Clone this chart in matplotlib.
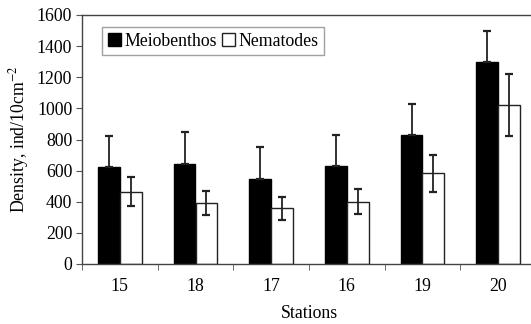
import matplotlib
matplotlib.use("Agg")
import matplotlib.pyplot as plt
import numpy as np

stations = ["15", "18", "17", "16", "19", "20"]
meio = [625, 643, 544, 630, 829, 1300]
meio_err = [198, 203, 206, 199, 199, 197]
nema = [465, 394, 358, 401, 583, 1022]
nema_err = [92, 78, 73, 81, 120, 201]

plt.rcParams['font.family'] = ['Liberation Serif', 'DejaVu Serif']
plt.rcParams['mathtext.fontset'] = 'stix'

fig = plt.figure(figsize=(5.31, 3.24), dpi=100)
ax = fig.add_axes([82/531, 1 - 264/324, (536 - 82)/531, (264 - 15)/324])

fs = 12.8
x = np.arange(len(stations))
w = 0.29
ax.bar(x - w/2, meio, w, color='black', edgecolor='black', linewidth=1,
       label='Meiobenthos', zorder=2)
ax.errorbar(x - w/2, meio, yerr=[np.zeros(len(meio)), meio_err], fmt='none',
            ecolor='#222222', elinewidth=1.3, capsize=3, capthick=1.6, zorder=3)
ax.bar(x + w/2, nema, w, color='white', edgecolor='#222222', linewidth=1,
       label='Nematodes', zorder=2)
ax.errorbar(x + w/2, nema, yerr=nema_err, fmt='none',
            ecolor='#222222', elinewidth=1.3, capsize=3, capthick=1.6, zorder=3)

ax.set_xlim(-0.5, len(stations) - 0.5)
ax.set_ylim(0, 1600)
ax.set_yticks(np.arange(0, 1601, 200))
ax.set_xticks(x)
ax.set_xticklabels(stations, fontsize=fs)
ax.tick_params(axis='x', length=0, pad=10)
ax.set_xticks(np.arange(-0.5, len(stations), 1), minor=True)
ax.tick_params(axis='x', which='minor', length=4, direction='out', color='#555555')
ax.tick_params(axis='y', labelsize=fs, length=4, direction='out', color='#555555', pad=3)

for s in ['left', 'bottom', 'top', 'right']:
    ax.spines[s].set_color('#444444')
    ax.spines[s].set_linewidth(1)

ax.set_ylabel('Density, ind/10cm$^{\\mathrm{-2}}$', fontsize=fs, labelpad=4)
ax.set_xlabel('Stations', fontsize=fs, labelpad=7)

leg = ax.legend(loc='upper left', bbox_to_anchor=(0.045, 0.95), ncol=2,
                fontsize=fs, frameon=True, fancybox=False, edgecolor='#888888',
                handlelength=0.75, handleheight=0.75, handletextpad=0.2,
                columnspacing=0.25, borderpad=0.3, borderaxespad=0)
leg.get_frame().set_linewidth(1)

fig.savefig('out.png', dpi=100)
